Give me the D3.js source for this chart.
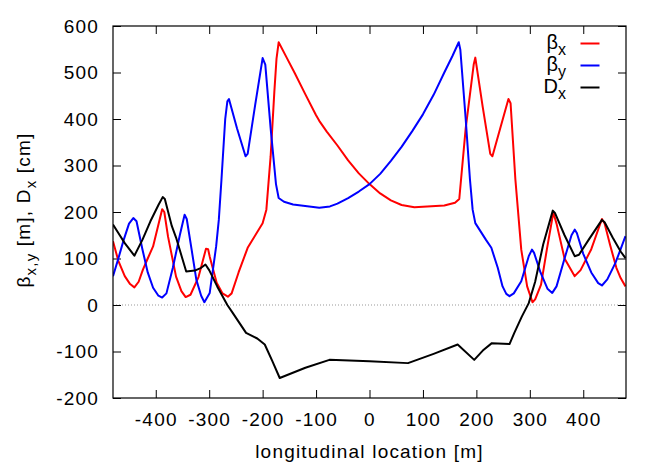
<!DOCTYPE html>
<html lang="en">
<head>
<meta charset="UTF-8">
<title>Beta functions and dispersion</title>
<script src="https://d3js.org/d3.v7.min.js"></script>
<style>
  body { margin: 0; background: #fff; }
  text { font-family: "Liberation Sans", Arial, sans-serif; }
</style>
</head>
<body>
<svg id="chart"></svg>
<script>
// longitudinal location [m] / value pairs
const betaX = [
  [-480,137],[-470,95],[-458,62],[-448,45],[-440,38],[-432,50],[-424,76],[-415,100],[-405,126],[-388,206],[-384,200],
  [-377,147],[-362,61],[-352,30],[-344,17],[-335,22],[-320,60],[-306,121],[-302,120],[-299,104],[-286,48],
  [-275,25],[-265,18],[-258,25],[-245,70],[-228,123],[-200,176],[-193,205],[-185,320],[-178,460],[-174,530],
  [-170,565],[-155,532],[-140,499],[-120,453],[-100,408],[-94,396],[-80,373],[-60,343],[-40,311],[-20,283],
  [0,260],[20,240],[40,225],[60,215],[84,210],
  [140,214],[160,220],[168,228],[180,380],[195,517],[198,532],[212,425],[226,325],[230,320],[260,443],
  [264,434],[273,270],[284,119],[295,40],[305,6],[310,12],[321,44],[332,120],[344,199],[350,175],[365,100],
  [384,62],[395,75],[415,120],[435,185],[440,175],[450,130],[462,80],[470,58],[479,40]
];
const betaY = [
  [-480,62],[-470,100],[-460,140],[-450,175],[-442,187],[-436,180],[-425,120],[-415,70],[-405,37],[-395,20],
  [-388,16],[-380,25],[-368,80],[-355,150],[-346,194],[-342,185],[-333,120],[-324,54],[-315,20],[-309,6],
  [-299,26],[-287,126],[-282,183],[-277,270],[-270,400],[-266,438],[-263,443],[-248,380],[-232,320],[-228,325],
  [-214,430],[-200,531],[-195,517],[-185,380],[-175,260],[-170,230],[-160,222],[-143,216],[-94,209],[-74,212],
  [-60,218],[-40,230],[-20,244],[0,260],[20,282],[40,310],[60,340],[80,374],[100,410],[120,452],[140,500],
  [155,535],[167,565],[170,549],[180,400],
  [188,270],[193,205],[198,176],[218,140],[228,123],[240,80],[249,40],[256,24],[262,19],[270,25],[284,51],
  [298,105],[304,119],[308,112],[320,70],[333,35],[342,26],[350,40],[365,100],[378,150],[384,162],[388,155],
  [400,110],[415,70],[428,47],[435,42],[445,55],[460,90],[470,120],[479,148]
];
const dispX = [
  [-480,173],[-470,155],[-458,133],[-440,106],[-425,140],[-410,180],[-395,215],[-387,232],[-383,228],[-370,170],
  [-362,145],[-343,72],[-327,74],[-315,80],[-307,87],[-300,75],[-285,40],[-266,0],[-256,-17],[-231,-60],
  [-210,-72],[-196,-85],[-182,-120],[-168,-157],[-120,-135],[-75,-118],[0,-121],[72,-125],[120,-105],
  [165,-85],[168,-88],[196,-118],[212,-98],[229,-82],[262,-84],[271,-60],[285,-25],[298,4],[310,50],
  [325,130],[343,203],[347,198],[365,150],[384,105],[392,108],[410,140],[435,183],[440,178],[455,145],
  [470,115],[479,101]
];
const xTicks = [-400, -300, -200, -100, 0, 100, 200, 300, 400];
const yTicks = [-200, -100, 0, 100, 200, 300, 400, 500, 600];

const W = 664, H = 465;
const margin = { top: 26, right: 38, bottom: 67, left: 113 };
const width = W - margin.left - margin.right;
const height = H - margin.top - margin.bottom;

const svg = d3.select("#chart").attr("width", W).attr("height", H);
const g = svg.append("g").attr("transform", `translate(${margin.left},${margin.top})`);

const x = d3.scaleLinear().domain([-480, 480]).range([0, width]);
const y = d3.scaleLinear().domain([-200, 600]).range([height, 0]);

const fontSize = 19;
const spacing = "1.2px";
const plain = d => String(d); // keep ascii hyphen like the original

// zero line
g.append("line")
  .attr("x1", 0).attr("x2", width)
  .attr("y1", y(0)).attr("y2", y(0))
  .attr("stroke", "#999").attr("stroke-width", 1)
  .attr("stroke-dasharray", "1,2");

// axes with inward ticks
const styleAxis = sel => {
  sel.select(".domain").remove();
  sel.selectAll(".tick line").attr("stroke", "#000");
  sel.selectAll("text")
    .attr("fill", "#000")
    .style("font-size", fontSize + "px")
    .style("letter-spacing", spacing);
};
g.append("g").attr("transform", `translate(0,${height})`)
  .call(d3.axisBottom(x).tickValues(xTicks).tickFormat(plain).tickSize(-8).tickPadding(15))
  .call(styleAxis);
g.append("g")
  .call(d3.axisTop(x).tickValues(xTicks).tickSize(-8).tickFormat(""))
  .call(styleAxis);
g.append("g")
  .call(d3.axisLeft(y).tickValues(yTicks).tickFormat(plain).tickSize(-8).tickPadding(14))
  .call(styleAxis);
g.append("g").attr("transform", `translate(${width},0)`)
  .call(d3.axisRight(y).tickValues(yTicks).tickSize(-8).tickFormat(""))
  .call(styleAxis);

// curves
const line = d3.line().x(d => x(d[0])).y(d => y(d[1]));
g.append("clipPath").attr("id", "clip")
  .append("rect").attr("width", width).attr("height", height);

const series = [
  { name: "x", sym: "β", data: betaX, color: "#ff0000" },
  { name: "y", sym: "β", data: betaY, color: "#0000ff" },
  { name: "x", sym: "D", data: dispX, color: "#000000" }
];

series.forEach(s => {
  g.append("path")
    .datum(s.data)
    .attr("clip-path", "url(#clip)")
    .attr("d", line)
    .attr("fill", "none")
    .attr("stroke", s.color)
    .attr("stroke-width", 2)
    .attr("stroke-linejoin", "round");
});

// frame
g.append("rect")
  .attr("width", width).attr("height", height)
  .attr("fill", "none").attr("stroke", "#000").attr("stroke-width", 1.2);

// legend
const legend = g.append("g").attr("transform", `translate(${width - 60},0)`);
series.forEach((s, i) => {
  const yy = 17.5 + i * 22;
  const t = legend.append("text")
    .attr("x", 0).attr("y", yy + 5.5)
    .attr("text-anchor", "end")
    .style("font-size", "20px");
  t.append("tspan").text(s.sym);
  t.append("tspan").attr("dy", 6).style("font-size", "16px").text(s.name);
  legend.append("line")
    .attr("x1", 14.5).attr("x2", 33.5)
    .attr("y1", yy).attr("y2", yy)
    .attr("stroke", s.color).attr("stroke-width", 2);
});

// axis labels
svg.append("text")
  .attr("x", margin.left + width / 2).attr("y", 458)
  .attr("text-anchor", "middle")
  .style("font-size", fontSize + "px")
  .style("letter-spacing", spacing)
  .text("longitudinal location [m]");

const yl = svg.append("text")
  .attr("transform", "translate(30,210) rotate(-90)")
  .attr("text-anchor", "middle")
  .style("font-size", fontSize + "px")
  .style("letter-spacing", spacing);
yl.append("tspan").text("β");
yl.append("tspan").attr("dy", 6).style("font-size", "15px").text("x,y");
yl.append("tspan").attr("dy", -6).text(" [m], D");
yl.append("tspan").attr("dy", 6).style("font-size", "15px").text("x");
yl.append("tspan").attr("dy", -6).text(" [cm]");
</script>
</body>
</html>
